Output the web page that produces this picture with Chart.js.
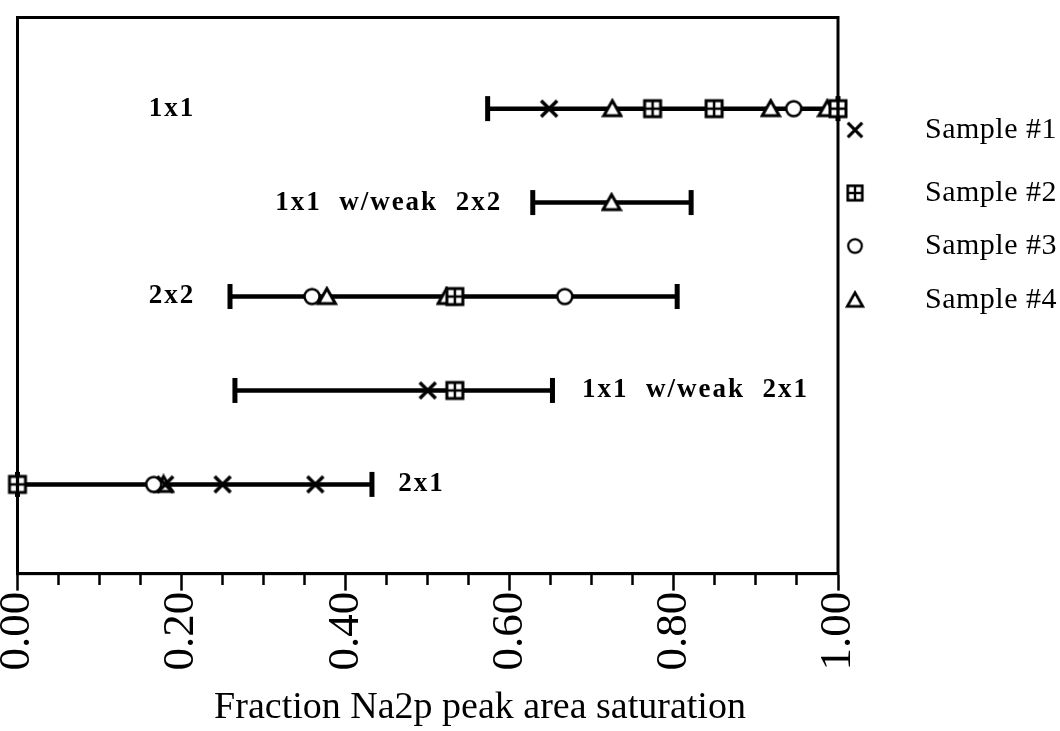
<!DOCTYPE html>
<html>
<head>
<meta charset="utf-8">
<script src="https://cdn.jsdelivr.net/npm/chart.js@4"></script>
<style>
  html, body { margin: 0; padding: 0; background: #fff; }
</style>
</head>
<body>
<canvas id="satChart" width="1060" height="731"></canvas>
<script>
// surface structures, top row first
const rowNames = ['1x1', '1x1  w/weak  2x2', '2x2', '1x1  w/weak  2x1', '2x1'];
const rowY = [5, 4, 3, 2, 1];
const rangeLow = [0.573, 0.628, 0.259, 0.265, 0.0];
const rangeHigh = [1.0, 0.821, 0.804, 0.652, 0.432];
const labelAt = [0.16, 0.314, 0.16, 0.688, 0.464]; // where each row name starts

// measured points per sample: [fraction, row]
const sampleNames = ['Sample #1', 'Sample #2', 'Sample #3', 'Sample #4'];
const sample1 = [[0.648, 5], [0.50, 2], [0.18, 1], [0.25, 1], [0.363, 1]];
const sample2 = [[0.774, 5], [0.849, 5], [1.0, 5], [0.533, 3], [0.533, 2], [0.0, 1]];
const sample3 = [[0.946, 5], [0.359, 3], [0.667, 3], [0.166, 1]];
const sample4 = [[0.725, 5], [0.918, 5], [0.987, 5], [0.724, 4], [0.377, 3], [0.523, 3], [0.178, 1]];

const xTickLabels = ['0.00', '0.20', '0.40', '0.60', '0.80', '1.00'];

function makeMarker(kind) {
    const c = document.createElement('canvas');
    c.width = c.height = 22;
    const g = c.getContext('2d');
    g.strokeStyle = '#000';
    g.fillStyle = '#fff';
    if (kind === 'x') {
        g.lineWidth = 3.5;
        g.beginPath();
        g.moveTo(3, 3); g.lineTo(19, 19);
        g.moveTo(19, 3); g.lineTo(3, 19);
        g.stroke();
    } else if (kind === 'box') {
        g.lineWidth = 3;
        g.fillRect(3, 3, 16, 16);
        g.strokeRect(3, 3, 16, 16);
        g.lineWidth = 2.5;
        g.beginPath();
        g.moveTo(11, 3); g.lineTo(11, 19);
        g.moveTo(3, 11); g.lineTo(19, 11);
        g.stroke();
    } else if (kind === 'circle') {
        g.lineWidth = 2.5;
        g.beginPath();
        g.arc(11, 11, 7.5, 0, Math.PI * 2);
        g.fill();
        g.stroke();
    } else {
        g.lineWidth = 3;
        g.lineJoin = 'miter';
        g.beginPath();
        g.moveTo(11, 3); g.lineTo(19.5, 18); g.lineTo(2.5, 18);
        g.closePath();
        g.fill();
        g.stroke();
    }
    return c;
}

const markers = [makeMarker('x'), makeMarker('box'), makeMarker('circle'), makeMarker('tri')];
const samples = [sample1, sample2, sample3, sample4];

// outline round the plot
const frame = {
    id: 'frame',
    afterDatasetsDraw(chart) {
        const {ctx, chartArea: a} = chart;
        ctx.save();
        ctx.strokeStyle = '#000';
        ctx.lineWidth = 3;
        ctx.strokeRect(a.left, a.top, a.right - a.left, a.bottom - a.top);
        ctx.restore();
    }
};

// bold names next to the bars
const rowLabels = {
    id: 'rowLabels',
    afterDatasetsDraw(chart) {
        const {ctx, scales} = chart;
        ctx.save();
        ctx.font = 'bold 27px "Liberation Serif"';
        ctx.letterSpacing = '2px';
        ctx.fillStyle = '#000';
        ctx.textAlign = 'left';
        ctx.textBaseline = 'middle';
        rowNames.forEach((name, i) => {
            ctx.fillText(name, scales.x.getPixelForValue(labelAt[i]), scales.y.getPixelForValue(rowY[i]));
        });
        ctx.restore();
    }
};

// legend sits to the right of the frame, spacing as in the original
const legendRows = [130, 193, 246, 300];
const sideLegend = {
    id: 'sideLegend',
    afterDraw(chart) {
        const {ctx, chartArea} = chart;
        ctx.save();
        ctx.font = '30px "Liberation Serif"';
        ctx.letterSpacing = '0.5px';
        ctx.fillStyle = '#000';
        ctx.textBaseline = 'middle';
        sampleNames.forEach((name, i) => {
            const y = legendRows[i];
            ctx.drawImage(markers[i], chartArea.right + 7, y - 10, 20, 20);
            ctx.fillText(name, chartArea.right + 87, y);
        });
        ctx.restore();
    }
};

const barSets = rowNames.map((name, i) => ({
    type: 'line',
    label: name,
    data: [{x: rangeLow[i], y: rowY[i]}, {x: rangeHigh[i], y: rowY[i]}],
    borderColor: '#000',
    borderWidth: 4.5,
    pointStyle: 'line',
    pointRotation: 90,
    pointRadius: 12.5,
    pointBorderWidth: 5,
    pointBorderColor: '#000',
    order: 10,
    clip: false
}));

const pointSets = samples.map((pts, i) => ({
    type: 'scatter',
    label: sampleNames[i],
    data: pts.map(p => ({x: p[0], y: p[1]})),
    pointStyle: markers[i],
    showLine: false,
    order: 1,
    clip: false
}));

new Chart(document.getElementById('satChart'), {
    type: 'scatter',
    data: { datasets: pointSets.concat(barSets) },
    options: {
        responsive: false,
        animation: false,
        layout: { padding: { left: 17, right: 222, top: 14, bottom: 0 } },
        plugins: { legend: { display: false }, tooltip: { enabled: false } },
        scales: {
            x: {
                type: 'linear',
                min: 0,
                max: 1,
                ticks: {
                    stepSize: 0.05,
                    autoSkip: false,
                    minRotation: 90,
                    maxRotation: 90,
                    padding: 1,
                    color: '#000',
                    font: { family: 'Liberation Serif', size: 45 },
                    callback: (v, i) => i % 4 === 0 ? xTickLabels[i / 4] : ''
                },
                grid: {
                    drawOnChartArea: false,
                    color: '#000',
                    tickLength: 17,
                    tickWidth: 2.5,
                    tickColor: '#000',
                    tickBorderDash: ctx => ctx.index % 4 === 0 ? [] : [10, 40]
                },
                border: { display: true, color: '#000', width: 3 },
                title: {
                    display: true,
                    // leading spaces push it right, like the original
                    text: '           Fraction Na2p peak area saturation',
                    color: '#000',
                    font: { family: 'Liberation Serif', size: 38 },
                    padding: { top: 14, bottom: 0 }
                }
            },
            y: { type: 'linear', min: 0.05, max: 5.97, display: false }
        }
    },
    plugins: [frame, rowLabels, sideLegend]
});
</script>
</body>
</html>
